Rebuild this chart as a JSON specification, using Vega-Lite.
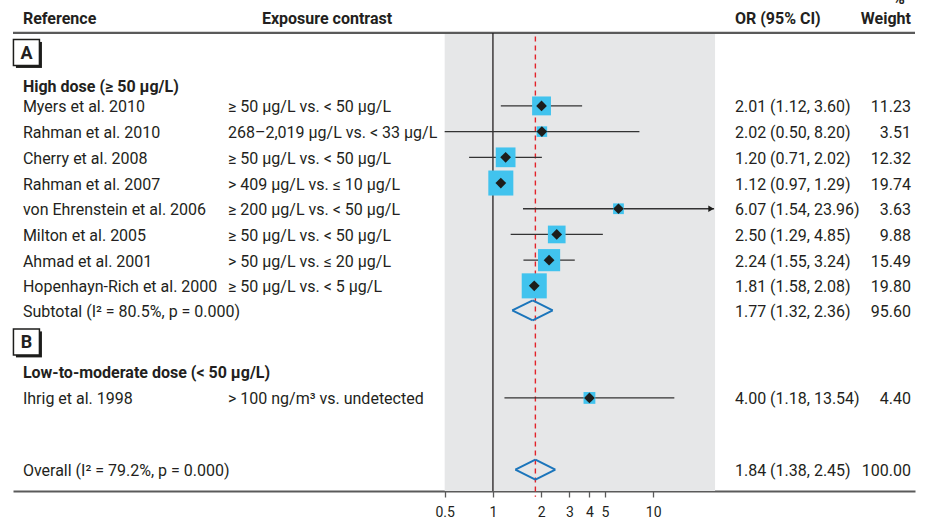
{
  "$schema": "https://vega.github.io/schema/vega-lite/v6.json",
  "width": 902,
  "height": 491,
  "autosize": {"type": "none"},
  "padding": {"left": 13, "top": 0, "right": 11, "bottom": 32},
  "background": "#ffffff",
  "config": {
    "view": {"stroke": null},
    "font": "Roboto, sans-serif",
    "text": {"fontSize": 16, "color": "#231f20", "baseline": "middle", "dy": 1.5}
  },
  "resolve": {"axis": {"x": "independent", "y": "independent"}},
  "datasets": {
    "studies": [
      {"row": 0, "label": "Myers et al. 2010", "contrast": "≥ 50 µg/L vs. < 50 µg/L", "ortext": "2.01 (1.12, 3.60)", "wtext": "11.23", "or": 2.01, "lo": 1.12, "hi": 3.60, "weight": 11.23, "type": "study", "arrow": false},
      {"row": 1, "label": "Rahman et al. 2010", "contrast": "268–2,019 µg/L vs. < 33 µg/L", "ortext": "2.02 (0.50, 8.20)", "wtext": "3.51", "or": 2.02, "lo": 0.50, "hi": 8.20, "weight": 3.51, "type": "study", "arrow": false},
      {"row": 2, "label": "Cherry et al. 2008", "contrast": "≥ 50 µg/L vs. < 50 µg/L", "ortext": "1.20 (0.71, 2.02)", "wtext": "12.32", "or": 1.20, "lo": 0.71, "hi": 2.02, "weight": 12.32, "type": "study", "arrow": false},
      {"row": 3, "label": "Rahman et al. 2007", "contrast": "> 409 µg/L vs. ≤ 10 µg/L", "ortext": "1.12 (0.97, 1.29)", "wtext": "19.74", "or": 1.12, "lo": 0.97, "hi": 1.29, "weight": 19.74, "type": "study", "arrow": false},
      {"row": 4, "label": "von Ehrenstein et al. 2006", "contrast": "≥ 200 µg/L vs. < 50 µg/L", "ortext": "6.07 (1.54, 23.96)", "wtext": "3.63", "or": 6.07, "lo": 1.54, "hi": 23.96, "weight": 3.63, "type": "study", "arrow": true},
      {"row": 5, "label": "Milton et al. 2005", "contrast": "≥ 50 µg/L vs. < 50 µg/L", "ortext": "2.50 (1.29, 4.85)", "wtext": "9.88", "or": 2.50, "lo": 1.29, "hi": 4.85, "weight": 9.88, "type": "study", "arrow": false},
      {"row": 6, "label": "Ahmad et al. 2001", "contrast": "> 50 µg/L vs. ≤ 20 µg/L", "ortext": "2.24 (1.55, 3.24)", "wtext": "15.49", "or": 2.24, "lo": 1.55, "hi": 3.24, "weight": 15.49, "type": "study", "arrow": false},
      {"row": 7, "label": "Hopenhayn-Rich et al. 2000", "contrast": "≥ 50 µg/L vs. < 5 µg/L", "ortext": "1.81 (1.58, 2.08)", "wtext": "19.80", "or": 1.81, "lo": 1.58, "hi": 2.08, "weight": 19.80, "type": "study", "arrow": false},
      {"row": 7.95, "label": "Subtotal (I² = 80.5%, p = 0.000)", "contrast": "", "ortext": "1.77 (1.32, 2.36)", "wtext": "95.60", "or": 1.77, "lo": 1.32, "hi": 2.36, "weight": 95.60, "type": "subtotal", "arrow": false},
      {"row": 11.36, "label": "Ihrig et al. 1998", "contrast": "> 100 ng/m³ vs. undetected", "ortext": "4.00 (1.18, 13.54)", "wtext": "4.40", "or": 4.00, "lo": 1.18, "hi": 13.54, "weight": 4.40, "type": "study", "arrow": false},
      {"row": 14.15, "label": "Overall (I² = 79.2%, p = 0.000)", "contrast": "", "ortext": "1.84 (1.38, 2.45)", "wtext": "100.00", "or": 1.84, "lo": 1.38, "hi": 2.45, "weight": 100.0, "type": "overall", "arrow": false}
    ],
    "headings": [
      {"row": -0.78, "text": "High dose (≥ 50 µg/L)"},
      {"row": 10.35, "text": "Low-to-moderate dose (< 50 µg/L)"}
    ],
    "boxes": [
      {"row": -2.08, "text": "A"},
      {"row": 9.18, "text": "B"}
    ],
    "header": [
      {"row": -3.42, "ref": "Reference", "exp": "Exposure contrast", "ci": "OR (95% CI)", "wt": "Weight", "pct": "%"}
    ]
  },
  "layer": [
    {
      "data": {"values": [{}]},
      "mark": {"type": "rect", "color": "#e6e7e8"},
      "encoding": {
        "x": {"datum": 0.5, "type": "quantitative",
          "scale": {"type": "log", "domain": [0.001014, 429.5], "nice": false, "zero": false},
          "axis": {"values": [0.5, 1, 2, 3, 4, 5, 10], "format": "~g", "title": null, "grid": false,
            "domainColor": "#5a5a5a", "domainWidth": 2.2, "tickColor": "#5a5a5a", "tickWidth": 1.3, "tickSize": 6,
            "labelFontSize": 14, "labelColor": "#231f20", "labelPadding": 8, "labelFlush": false, "labelOverlap": false}},
        "x2": {"datum": 24.3},
        "y": {"datum": -2.84, "type": "quantitative",
          "scale": {"domain": [-4.12, 14.98], "reverse": true, "nice": false, "zero": false}, "axis": null},
        "y2": {"datum": 14.98}
      }
    },
    {
      "data": {"values": [{}]},
      "mark": {"type": "rule", "color": "#5a5a5a", "strokeWidth": 2.2},
      "encoding": {
        "x": {"datum": 0.001014, "type": "quantitative", "axis": null},
        "x2": {"datum": 429.5},
        "y": {"datum": -2.84, "type": "quantitative", "axis": null}
      }
    },
    {
      "data": {"values": [{}]},
      "mark": {"type": "rule", "color": "#231f20", "strokeWidth": 1.3},
      "encoding": {
        "x": {"datum": 1, "type": "quantitative", "axis": null},
        "y": {"datum": -2.84, "type": "quantitative", "axis": null},
        "y2": {"datum": 14.98}
      }
    },
    {
      "data": {"name": "studies"},
      "transform": [{"filter": "datum.type === 'overall'"}],
      "mark": {"type": "rule", "color": "#e2232b", "strokeWidth": 1.4, "strokeDash": [5, 4]},
      "encoding": {
        "x": {"field": "or", "type": "quantitative", "axis": null},
        "y": {"datum": -2.7, "type": "quantitative", "axis": null},
        "y2": {"datum": 15.2}
      }
    },
    {
      "data": {"name": "studies"},
      "transform": [{"filter": "datum.type === 'study'"}],
      "mark": {"type": "rule", "color": "#333333", "strokeWidth": 1.3},
      "encoding": {
        "x": {"field": "lo", "type": "quantitative", "axis": null},
        "x2": {"field": "hi"},
        "y": {"field": "row", "type": "quantitative", "axis": null}
      }
    },
    {
      "data": {"name": "studies"},
      "transform": [{"filter": "datum.type === 'study'"}],
      "mark": {"type": "point", "shape": "square", "filled": true, "color": "#41c3ee", "opacity": 1},
      "encoding": {
        "x": {"field": "or", "type": "quantitative", "axis": null},
        "y": {"field": "row", "type": "quantitative", "axis": null},
        "size": {"field": "weight", "type": "quantitative", "scale": {"type": "linear", "domain": [0, 20], "range": [0, 634], "zero": true}, "legend": null}
      }
    },
    {
      "data": {"name": "studies"},
      "transform": [{"filter": "datum.type === 'study'"}],
      "mark": {"type": "point", "shape": "diamond", "filled": true, "color": "#1d1d1b", "opacity": 1, "size": 115},
      "encoding": {
        "x": {"field": "or", "type": "quantitative", "axis": null},
        "y": {"field": "row", "type": "quantitative", "axis": null}
      }
    },
    {
      "data": {"name": "studies"},
      "transform": [{"filter": "datum.arrow"}],
      "mark": {"type": "point", "shape": "triangle-right", "filled": true, "color": "#1d1d1b", "opacity": 1, "size": 40, "xOffset": -3},
      "encoding": {
        "x": {"field": "hi", "type": "quantitative", "axis": null},
        "y": {"field": "row", "type": "quantitative", "axis": null}
      }
    },
    {
      "data": {"name": "studies"},
      "transform": [{"filter": "datum.type !== 'study'"}],
      "mark": {"type": "rule", "color": "#1b75bb", "strokeWidth": 2, "y2Offset": -10},
      "encoding": {
        "x": {"field": "lo", "type": "quantitative", "axis": null},
        "x2": {"field": "or"},
        "y": {"field": "row", "type": "quantitative", "axis": null},
        "y2": {"field": "row"}
      }
    },
    {
      "data": {"name": "studies"},
      "transform": [{"filter": "datum.type !== 'study'"}],
      "mark": {"type": "rule", "color": "#1b75bb", "strokeWidth": 2, "y2Offset": 10},
      "encoding": {
        "x": {"field": "lo", "type": "quantitative", "axis": null},
        "x2": {"field": "or"},
        "y": {"field": "row", "type": "quantitative", "axis": null},
        "y2": {"field": "row"}
      }
    },
    {
      "data": {"name": "studies"},
      "transform": [{"filter": "datum.type !== 'study'"}],
      "mark": {"type": "rule", "color": "#1b75bb", "strokeWidth": 2, "yOffset": -10},
      "encoding": {
        "x": {"field": "or", "type": "quantitative", "axis": null},
        "x2": {"field": "hi"},
        "y": {"field": "row", "type": "quantitative", "axis": null},
        "y2": {"field": "row"}
      }
    },
    {
      "data": {"name": "studies"},
      "transform": [{"filter": "datum.type !== 'study'"}],
      "mark": {"type": "rule", "color": "#1b75bb", "strokeWidth": 2, "yOffset": 10},
      "encoding": {
        "x": {"field": "or", "type": "quantitative", "axis": null},
        "x2": {"field": "hi"},
        "y": {"field": "row", "type": "quantitative", "axis": null},
        "y2": {"field": "row"}
      }
    },
    {
      "data": {"name": "studies"},
      "mark": {"type": "text", "align": "left"},
      "encoding": {
        "x": {"datum": 0.001169, "type": "quantitative", "axis": null},
        "y": {"field": "row", "type": "quantitative", "axis": null},
        "text": {"field": "label"}
      }
    },
    {
      "data": {"name": "studies"},
      "mark": {"type": "text", "align": "left"},
      "encoding": {
        "x": {"datum": 0.02223, "type": "quantitative", "axis": null},
        "y": {"field": "row", "type": "quantitative", "axis": null},
        "text": {"field": "contrast"}
      }
    },
    {
      "data": {"name": "studies"},
      "mark": {"type": "text", "align": "left"},
      "encoding": {
        "x": {"datum": 32.34, "type": "quantitative", "axis": null},
        "y": {"field": "row", "type": "quantitative", "axis": null},
        "text": {"field": "ortext"}
      }
    },
    {
      "data": {"name": "studies"},
      "mark": {"type": "text", "align": "right"},
      "encoding": {
        "x": {"datum": 405.2, "type": "quantitative", "axis": null},
        "y": {"field": "row", "type": "quantitative", "axis": null},
        "text": {"field": "wtext"}
      }
    },
    {
      "data": {"name": "headings"},
      "mark": {"type": "text", "align": "left", "fontWeight": "bold"},
      "encoding": {
        "x": {"datum": 0.001169, "type": "quantitative", "axis": null},
        "y": {"field": "row", "type": "quantitative", "axis": null},
        "text": {"field": "text"}
      }
    },
    {
      "data": {"name": "header"},
      "mark": {"type": "text", "align": "left", "fontWeight": "bold"},
      "encoding": {
        "x": {"datum": 0.001169, "type": "quantitative", "axis": null},
        "y": {"field": "row", "type": "quantitative", "axis": null},
        "text": {"field": "ref"}
      }
    },
    {
      "data": {"name": "header"},
      "mark": {"type": "text", "align": "left", "fontWeight": "bold"},
      "encoding": {
        "x": {"datum": 0.03622, "type": "quantitative", "axis": null},
        "y": {"field": "row", "type": "quantitative", "axis": null},
        "text": {"field": "exp"}
      }
    },
    {
      "data": {"name": "header"},
      "mark": {"type": "text", "align": "left", "fontWeight": "bold"},
      "encoding": {
        "x": {"datum": 32.34, "type": "quantitative", "axis": null},
        "y": {"field": "row", "type": "quantitative", "axis": null},
        "text": {"field": "ci"}
      }
    },
    {
      "data": {"name": "header"},
      "mark": {"type": "text", "align": "right", "fontWeight": "bold"},
      "encoding": {
        "x": {"datum": 405.2, "type": "quantitative", "axis": null},
        "y": {"field": "row", "type": "quantitative", "axis": null},
        "text": {"field": "wt"}
      }
    },
    {
      "data": {"name": "header"},
      "mark": {"type": "text", "align": "center", "fontWeight": "bold", "dy": -19},
      "encoding": {
        "x": {"datum": 341, "type": "quantitative", "axis": null},
        "y": {"field": "row", "type": "quantitative", "axis": null},
        "text": {"field": "pct"}
      }
    },
    {
      "data": {"name": "boxes"},
      "mark": {"type": "point", "shape": "square", "filled": true, "color": "#1d1d1b", "opacity": 1, "size": 676, "xOffset": 2.5, "yOffset": 2.5},
      "encoding": {
        "x": {"datum": 0.00123, "type": "quantitative", "axis": null},
        "y": {"field": "row", "type": "quantitative", "axis": null}
      }
    },
    {
      "data": {"name": "boxes"},
      "mark": {"type": "point", "shape": "square", "filled": true, "fill": "#ffffff", "stroke": "#1d1d1b", "strokeWidth": 1.5, "opacity": 1, "size": 676},
      "encoding": {
        "x": {"datum": 0.00123, "type": "quantitative", "axis": null},
        "y": {"field": "row", "type": "quantitative", "axis": null}
      }
    },
    {
      "data": {"name": "boxes"},
      "mark": {"type": "text", "align": "center", "fontWeight": "bold", "fontSize": 18},
      "encoding": {
        "x": {"datum": 0.00123, "type": "quantitative", "axis": null},
        "y": {"field": "row", "type": "quantitative", "axis": null},
        "text": {"field": "text"}
      }
    }
  ]
}
